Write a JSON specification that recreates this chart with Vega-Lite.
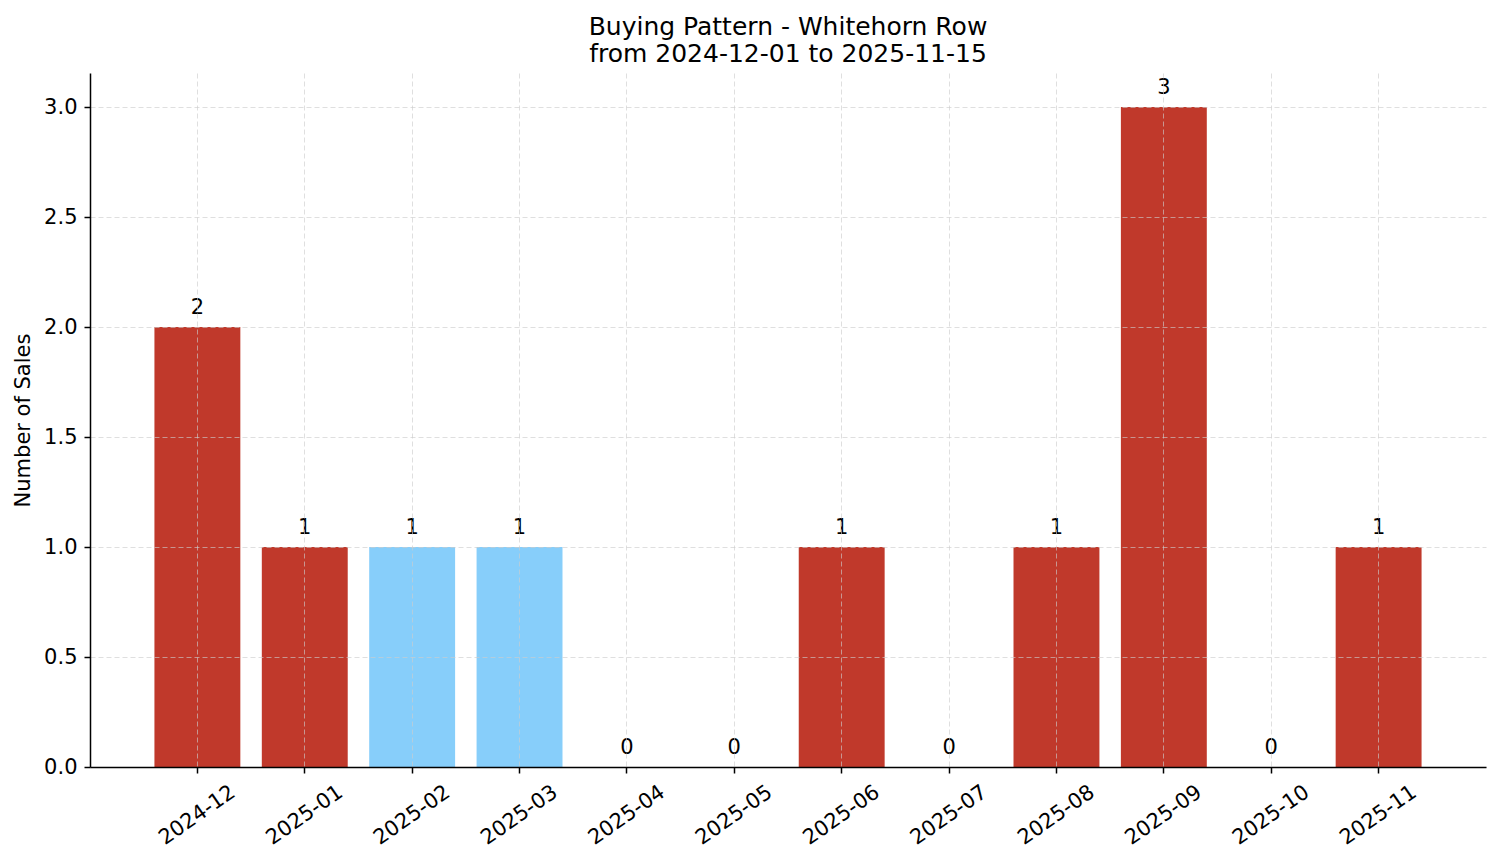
{
  "$schema": "https://vega.github.io/schema/vega-lite/v6.json",
  "width": 1396,
  "height": 694,
  "autosize": {"type": "none"},
  "padding": {"left": 90, "top": 73, "right": 15, "bottom": 96},
  "title": {
    "text": ["Buying Pattern - Whitehorn Row", "from 2024-12-01 to 2025-11-15"],
    "font": "DejaVu Sans",
    "fontSize": 25,
    "fontWeight": "normal",
    "color": "#000000",
    "anchor": "middle",
    "lineHeight": 27,
    "offset": 6
  },
  "config": {
    "font": "DejaVu Sans",
    "view": {"stroke": null},
    "axis": {
      "labelFont": "DejaVu Sans",
      "labelFontSize": 21,
      "labelColor": "#000000",
      "titleFont": "DejaVu Sans",
      "titleFontSize": 21,
      "titleFontWeight": "normal",
      "titleColor": "#000000",
      "domainColor": "#000000",
      "domainWidth": 1.5,
      "tickColor": "#000000",
      "tickWidth": 1.5,
      "tickSize": 6,
      "gridColor": "#cccccc",
      "gridDash": [5, 3],
      "gridWidth": 0.8,
      "gridOpacity": 0.8
    }
  },
  "data": {
    "values": [
      {"month": "2024-12", "sales": 2, "highlight": "no"},
      {"month": "2025-01", "sales": 1, "highlight": "no"},
      {"month": "2025-02", "sales": 1, "highlight": "yes"},
      {"month": "2025-03", "sales": 1, "highlight": "yes"},
      {"month": "2025-04", "sales": 0, "highlight": "no"},
      {"month": "2025-05", "sales": 0, "highlight": "no"},
      {"month": "2025-06", "sales": 1, "highlight": "no"},
      {"month": "2025-07", "sales": 0, "highlight": "no"},
      {"month": "2025-08", "sales": 1, "highlight": "no"},
      {"month": "2025-09", "sales": 3, "highlight": "no"},
      {"month": "2025-10", "sales": 0, "highlight": "no"},
      {"month": "2025-11", "sales": 1, "highlight": "no"}
    ]
  },
  "encoding": {
    "x": {
      "field": "month",
      "type": "ordinal",
      "sort": null,
      "scale": {"paddingInner": 0.2, "paddingOuter": 0.6},
      "axis": {
        "title": null,
        "grid": true,
        "bandPosition": 0.5,
        "labelAngle": -35,
        "labelAlign": "center",
        "labelBaseline": "middle",
        "labelPadding": 42,
        "zindex": 1
      }
    },
    "y": {
      "field": "sales",
      "type": "quantitative",
      "scale": {"domain": [0, 3.155], "nice": false, "zero": true},
      "axis": {
        "title": "Number of Sales",
        "values": [0, 0.5, 1, 1.5, 2, 2.5, 3],
        "format": ".1f",
        "grid": true,
        "labelPadding": 7,
        "titlePadding": 10,
        "zindex": 1
      }
    }
  },
  "layer": [
    {
      "mark": {"type": "bar"},
      "encoding": {
        "color": {
          "field": "highlight",
          "type": "nominal",
          "scale": {"domain": ["no", "yes"], "range": ["#c0392b", "#87cefa"]},
          "legend": null
        }
      }
    },
    {
      "mark": {
        "type": "text",
        "font": "DejaVu Sans",
        "fontSize": 21,
        "color": "#000000",
        "baseline": "alphabetic",
        "dy": -13
      },
      "encoding": {
        "text": {"field": "sales", "type": "quantitative"}
      }
    }
  ]
}
